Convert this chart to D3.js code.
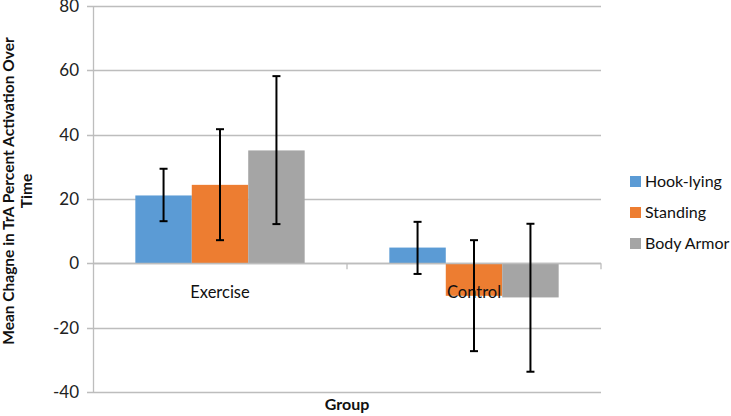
<!DOCTYPE html>
<html><head><meta charset="utf-8">
<script src="https://cdn.jsdelivr.net/npm/d3@7"></script>
<style>body{margin:0;background:#fff}svg{display:block}text{font-family:Lato,"Open Sans",sans-serif}</style>
</head><body><svg id="c" width="731" height="416"></svg>
<script>
const categories = ["Exercise", "Control"];
const seriesNames = ["Hook-lying", "Standing", "Body Armor"];
const means = [[21.1, 24.4, 35.1], [4.9, -10.1, -10.6]];
const errLow = [[13.1, 7.2, 12.2], [-3.3, -27.3, -33.7]];
const errHigh = [[29.4, 41.7, 58.2], [12.9, 7.2, 12.3]];
const yTicks = [-40, -20, 0, 20, 40, 60, 80];
const colors = ["#5B9BD5", "#ED7D31", "#A5A5A5"];

const svg = d3.select("#c");
const L = 93, R = 601, T = 6, B = 392;
const y = d3.scaleLinear().domain([-40, 80]).range([B, T]);
const x0 = d3.scaleBand().domain(categories).range([L, R]).paddingInner(0).paddingOuter(0);
const bw = x0.bandwidth() / 4.5;
const x1 = d3.scaleBand().domain(seriesNames).range([0.75 * bw, 3.75 * bw]);

// gridlines
svg.append("g").selectAll("line").data(yTicks).join("line")
  .attr("x1", L - 6).attr("x2", R).attr("y1", d => Math.round(y(d)) + 0.5).attr("y2", d => Math.round(y(d)) + 0.5)
  .attr("stroke", "#bdbdbd").attr("stroke-width", 1.3);
// y axis line
svg.append("line").attr("x1", L + 0.5).attr("x2", L + 0.5).attr("y1", T).attr("y2", B + 1)
  .attr("stroke", "#bdbdbd").attr("stroke-width", 1.3);
// y tick labels
svg.append("g").selectAll("text").data(yTicks).join("text")
  .attr("x", 79).attr("y", d => y(d)).attr("dy", "0.36em").attr("text-anchor", "end")
  .attr("font-size", 17).attr("fill", "#222").text(d => d);

// bars
const g = svg.append("g");
categories.forEach((c, ci) => {
  seriesNames.forEach((s, si) => {
    const v = means[ci][si];
    g.append("rect")
      .attr("x", x0(c) + x1(s)).attr("width", x1.bandwidth())
      .attr("y", y(Math.max(0, v))).attr("height", Math.abs(y(v) - y(0)))
      .attr("fill", colors[si]);
  });
});
// zero axis with ticks
svg.append("line").attr("x1", L).attr("x2", R).attr("y1", Math.round(y(0)) + 0.5).attr("y2", Math.round(y(0)) + 0.5)
  .attr("stroke", "#bdbdbd").attr("stroke-width", 1.3);
svg.append("g").selectAll("line").data([categories[1]]).join("line")
  .attr("x1", d => x0(d)).attr("x2", d => x0(d)).attr("y1", y(0)).attr("y2", y(0) + 6)
  .attr("stroke", "#bdbdbd").attr("stroke-width", 1.3);
svg.append("line").attr("x1", R).attr("x2", R).attr("y1", y(0)).attr("y2", y(0) + 6)
  .attr("stroke", "#bdbdbd").attr("stroke-width", 1.3);

// category labels
svg.append("g").selectAll("text").data(categories).join("text")
  .attr("x", d => x0(d) + x0.bandwidth() / 2).attr("y", 298).attr("text-anchor", "middle")
  .attr("font-size", 16.5).attr("fill", "#111").text(d => d);

// error bars
const eg = svg.append("g").attr("stroke", "#000").attr("stroke-width", 2);
categories.forEach((c, ci) => {
  seriesNames.forEach((s, si) => {
    const cx = x0(c) + x1(s) + x1.bandwidth() / 2;
    const lo = y(errLow[ci][si]), hi = y(errHigh[ci][si]);
    eg.append("line").attr("x1", cx).attr("x2", cx).attr("y1", lo).attr("y2", hi);
    eg.append("line").attr("x1", cx - 4).attr("x2", cx + 4).attr("y1", lo).attr("y2", lo);
    eg.append("line").attr("x1", cx - 4).attr("x2", cx + 4).attr("y1", hi).attr("y2", hi);
  });
});

// axis titles
svg.append("text").attr("x", 347).attr("y", 410).attr("text-anchor", "middle")
  .attr("font-size", 16).attr("font-weight", "bold").attr("fill", "#111").text("Group");
const yt = svg.append("text").attr("transform", "translate(0,191) rotate(-90)")
  .attr("text-anchor", "middle").attr("font-size", 15.5).attr("font-weight", "bold").attr("fill", "#111");
yt.append("tspan").attr("x", 0).attr("y", 14).text("Mean Chagne in TrA Percent Activation Over");
yt.append("tspan").attr("x", 0).attr("y", 32).text("Time");

// legend
const lg = svg.append("g").selectAll("g").data(seriesNames).join("g")
  .attr("transform", (d, i) => `translate(630,${181 + i * 31})`);
lg.append("rect").attr("x", 0).attr("y", -5).attr("width", 11).attr("height", 11).attr("fill", (d, i) => colors[i]);
lg.append("text").attr("x", 15).attr("y", 0).attr("dy", "0.36em").attr("font-size", 16).attr("fill", "#111").text(d => d);
</script></body></html>
